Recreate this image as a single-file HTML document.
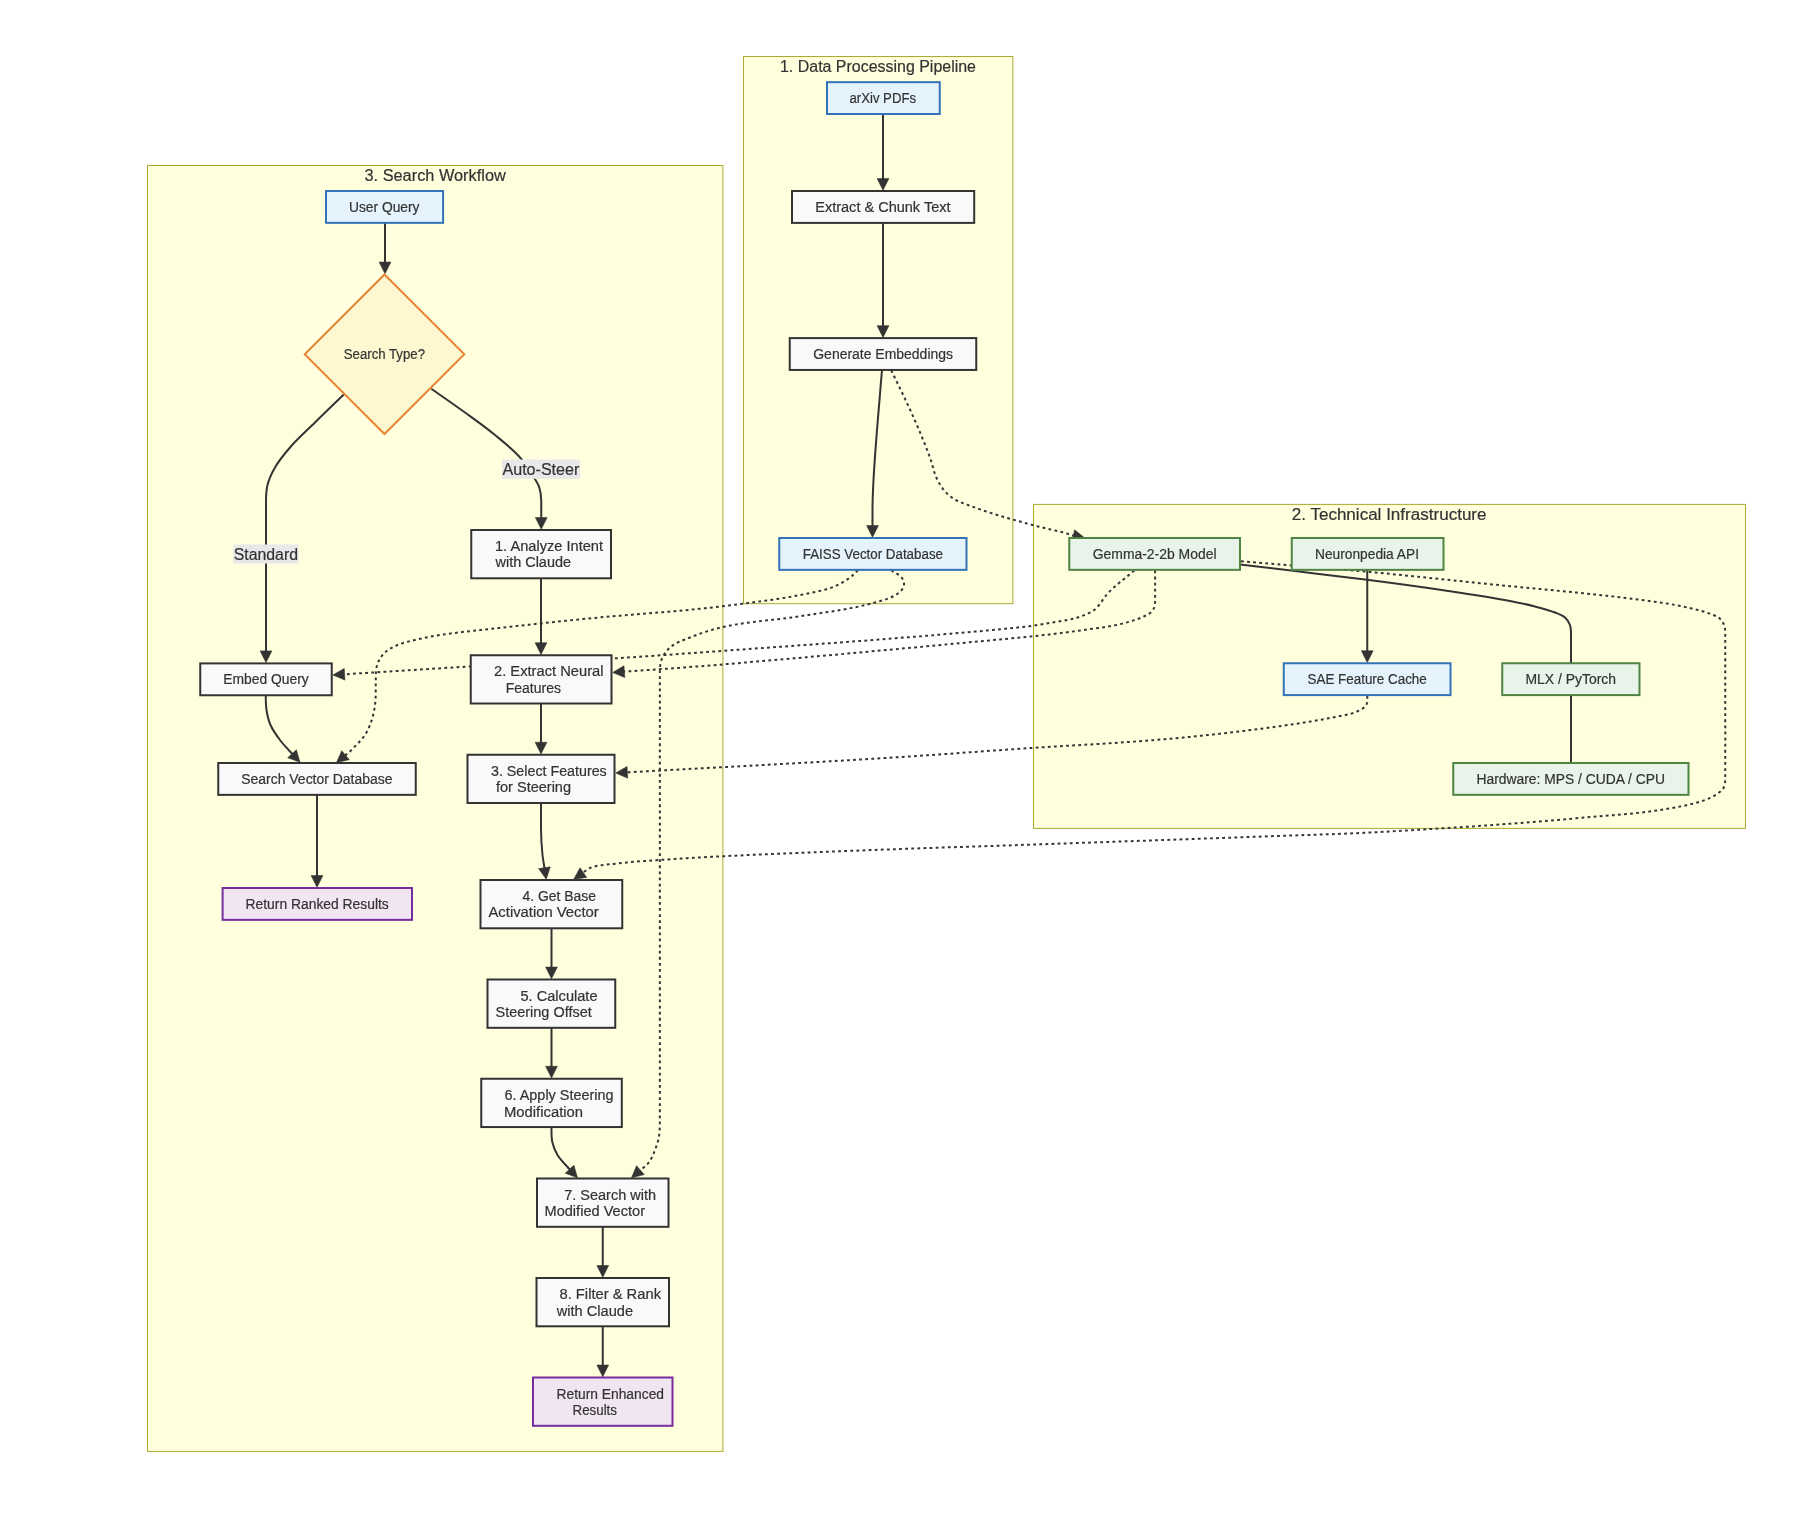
<!DOCTYPE html>
<html lang="en"><head><meta charset="utf-8"><title>Search architecture flowchart</title>
<style>html,body{margin:0;padding:0;background:#fff}svg{display:block;will-change:transform}text{font-family:"Liberation Sans",sans-serif;fill:#333;stroke:#333;stroke-width:0.2px}</style></head><body>
<svg width="1814" height="1538" viewBox="0 0 1814 1538">
<rect width="1814" height="1538" fill="#fff"/>
<g>
<rect x="147.50" y="165.50" width="575.40" height="1285.90" fill="#ffffde" stroke="#aaaa33" stroke-width="1"/>
<rect x="743.50" y="56.50" width="269.40" height="547.20" fill="#ffffde" stroke="#aaaa33" stroke-width="1"/>
<rect x="1033.50" y="504.40" width="712.00" height="324.00" fill="#ffffde" stroke="#aaaa33" stroke-width="1"/>
</g>
<g>
<path d="M385.00,222.00 C385.00,235.87 385.00,249.73 385.00,263.60" fill="none" stroke="#333" stroke-width="2"/>
<polygon points="385.00,273.80 379.15,262.10 390.85,262.10" fill="#333" stroke="#333" stroke-width="0.6" stroke-linejoin="miter"/>
<path d="M343.75,394.50 C334.17,403.83 324.52,413.10 315.00,422.50 C306.61,430.78 297.72,438.60 290.00,447.50 C284.54,453.80 279.17,460.29 275.00,467.50 C271.82,472.99 269.05,478.85 267.50,485.00 C266.11,490.52 266.00,496.31 266.00,502.00 C266.00,552.13 266.00,602.27 266.00,652.40" fill="none" stroke="#333" stroke-width="2"/>
<polygon points="266.00,662.60 260.15,650.90 271.85,650.90" fill="#333" stroke="#333" stroke-width="0.6" stroke-linejoin="miter"/>
<path d="M431.25,388.75 C442.50,396.67 453.87,404.41 465.00,412.50 C475.11,419.85 485.34,427.06 495.00,435.00 C503.66,442.12 512.56,449.11 520.00,457.50 C525.00,463.14 528.96,469.64 533.00,476.00 C535.16,479.40 537.67,482.70 539.00,486.50 C540.62,491.12 541.25,496.11 541.25,501.00 C541.25,507.03 541.25,513.07 541.25,519.10" fill="none" stroke="#333" stroke-width="2"/>
<polygon points="541.25,529.30 535.40,517.60 547.10,517.60" fill="#333" stroke="#333" stroke-width="0.6" stroke-linejoin="miter"/>
<path d="M541.00,577.00 C541.00,599.43 541.00,621.87 541.00,644.30" fill="none" stroke="#333" stroke-width="2"/>
<polygon points="541.00,654.50 535.15,642.80 546.85,642.80" fill="#333" stroke="#333" stroke-width="0.6" stroke-linejoin="miter"/>
<path d="M541.00,702.00 C541.00,715.93 541.00,729.87 541.00,743.80" fill="none" stroke="#333" stroke-width="2"/>
<polygon points="541.00,754.00 535.15,742.30 546.85,742.30" fill="#333" stroke="#333" stroke-width="0.6" stroke-linejoin="miter"/>
<path d="M541.00,803.00 C541.00,811.33 541.00,819.67 541.00,828.00 C541.00,837.01 541.56,846.04 542.50,855.00 C543.00,859.77 543.96,864.48 544.69,869.22" fill="none" stroke="#333" stroke-width="2"/>
<polygon points="546.25,879.30 538.68,868.63 550.25,866.84" fill="#333" stroke="#333" stroke-width="0.6" stroke-linejoin="miter"/>
<path d="M551.50,927.00 C551.50,940.87 551.50,954.73 551.50,968.60" fill="none" stroke="#333" stroke-width="2"/>
<polygon points="551.50,978.80 545.65,967.10 557.35,967.10" fill="#333" stroke="#333" stroke-width="0.6" stroke-linejoin="miter"/>
<path d="M551.50,1026.00 C551.50,1039.93 551.50,1053.87 551.50,1067.80" fill="none" stroke="#333" stroke-width="2"/>
<polygon points="551.50,1078.00 545.65,1066.30 557.35,1066.30" fill="#333" stroke="#333" stroke-width="0.6" stroke-linejoin="miter"/>
<path d="M551.50,1127.00 C551.50,1132.01 551.22,1137.11 552.30,1142.00 C553.30,1146.56 555.11,1150.99 557.50,1155.00 C560.17,1159.47 564.06,1163.09 567.50,1167.00 C568.49,1168.13 569.55,1169.21 570.57,1170.32" fill="none" stroke="#333" stroke-width="2"/>
<polygon points="577.50,1177.80 565.26,1173.19 573.84,1165.24" fill="#333" stroke="#333" stroke-width="0.6" stroke-linejoin="miter"/>
<path d="M602.75,1226.00 C602.75,1239.70 602.75,1253.40 602.75,1267.10" fill="none" stroke="#333" stroke-width="2"/>
<polygon points="602.75,1277.30 596.90,1265.60 608.60,1265.60" fill="#333" stroke="#333" stroke-width="0.6" stroke-linejoin="miter"/>
<path d="M602.75,1325.00 C602.75,1338.87 602.75,1352.73 602.75,1366.60" fill="none" stroke="#333" stroke-width="2"/>
<polygon points="602.75,1376.80 596.90,1365.10 608.60,1365.10" fill="#333" stroke="#333" stroke-width="0.6" stroke-linejoin="miter"/>
<path d="M265.75,695.00 C265.75,700.01 265.73,705.05 266.50,710.00 C267.30,715.11 268.43,720.26 270.50,725.00 C272.87,730.42 276.46,735.25 280.00,740.00 C283.03,744.07 286.61,747.72 290.00,751.50 C291.01,752.62 292.05,753.71 293.07,754.82" fill="none" stroke="#333" stroke-width="2"/>
<polygon points="300.00,762.30 287.76,757.69 296.34,749.74" fill="#333" stroke="#333" stroke-width="0.6" stroke-linejoin="miter"/>
<path d="M317.00,794.00 C317.00,821.70 317.00,849.40 317.00,877.10" fill="none" stroke="#333" stroke-width="2"/>
<polygon points="317.00,887.30 311.15,875.60 322.85,875.60" fill="#333" stroke="#333" stroke-width="0.6" stroke-linejoin="miter"/>
<path d="M883.00,113.00 C883.00,135.37 883.00,157.73 883.00,180.10" fill="none" stroke="#333" stroke-width="2"/>
<polygon points="883.00,190.30 877.15,178.60 888.85,178.60" fill="#333" stroke="#333" stroke-width="0.6" stroke-linejoin="miter"/>
<path d="M883.00,222.00 C883.00,257.07 883.00,292.13 883.00,327.20" fill="none" stroke="#333" stroke-width="2"/>
<polygon points="883.00,337.40 877.15,325.70 888.85,325.70" fill="#333" stroke="#333" stroke-width="0.6" stroke-linejoin="miter"/>
<path d="M882.00,370.00 C880.33,390.00 878.53,409.99 877.00,430.00 C875.72,446.66 874.36,463.31 873.50,480.00 C872.98,489.99 872.50,499.99 872.50,510.00 C872.50,515.70 872.50,521.40 872.50,527.10" fill="none" stroke="#333" stroke-width="2"/>
<polygon points="872.50,537.30 866.65,525.60 878.35,525.60" fill="#333" stroke="#333" stroke-width="0.6" stroke-linejoin="miter"/>
<path d="M1367.25,569.00 C1367.25,596.77 1367.25,624.53 1367.25,652.30" fill="none" stroke="#333" stroke-width="2"/>
<polygon points="1367.25,662.50 1361.40,650.80 1373.10,650.80" fill="#333" stroke="#333" stroke-width="0.6" stroke-linejoin="miter"/>
<path d="M1240.00,564.40 C1257.00,566.47 1274.00,568.55 1291.00,570.60 C1316.33,573.66 1341.69,576.45 1367.00,579.70 C1393.03,583.04 1419.05,586.50 1445.00,590.40 C1466.71,593.66 1488.44,596.87 1510.00,601.00 C1518.38,602.60 1526.74,604.36 1535.00,606.50 C1541.74,608.25 1548.53,609.93 1555.00,612.50 C1558.46,613.87 1562.21,615.03 1565.00,617.50 C1567.25,619.49 1569.00,622.17 1570.00,625.00 C1571.23,628.47 1571.00,632.32 1571.00,636.00 C1571.00,645.00 1571.00,654.00 1571.00,663.00" fill="none" stroke="#333" stroke-width="2"/>
<path d="M1571.00,695.00 C1571.00,717.67 1571.00,740.33 1571.00,763.00" fill="none" stroke="#333" stroke-width="2"/>
<path d="M891.25,370.25 C898.33,385.17 905.81,399.90 912.50,415.00 C918.70,429.01 924.66,443.14 930.00,457.50 C932.76,464.91 933.79,473.02 937.50,480.00 C940.71,486.03 944.64,492.01 950.00,496.25 C957.17,501.92 966.44,504.29 975.00,507.50 C993.76,514.54 1013.18,519.69 1032.50,525.00 C1043.26,527.96 1054.23,530.10 1065.00,533.00 C1068.29,533.89 1071.49,535.17 1074.82,535.88" fill="none" stroke="#333" stroke-width="2" stroke-dasharray="2.8 3.3"/>
<polygon points="1084.80,538.00 1072.14,541.29 1074.57,529.84" fill="#333" stroke="#333" stroke-width="0.6" stroke-linejoin="miter"/>
<path d="M858.00,570.25 C855.33,572.67 852.90,575.37 850.00,577.50 C845.33,580.92 840.36,584.07 835.00,586.25 C823.86,590.78 811.79,592.63 800.00,595.00 C780.99,598.81 761.71,601.16 742.50,603.75 C728.36,605.66 714.19,607.30 700.00,608.75 C664.55,612.37 628.97,614.64 593.50,618.00 C575.65,619.69 557.83,621.60 540.00,623.50 C523.33,625.27 506.66,627.08 490.00,629.00 C473.32,630.92 456.58,632.35 440.00,635.00 C431.61,636.34 423.26,638.00 415.00,640.00 C409.10,641.43 403.07,642.59 397.50,645.00 C393.04,646.93 388.55,649.19 385.00,652.50 C382.02,655.27 379.56,658.74 378.00,662.50 C376.38,666.41 375.80,670.77 375.80,675.00 C375.80,680.00 375.70,685.00 375.70,690.00 C375.70,694.14 375.71,698.29 375.30,702.40 C374.88,706.57 374.21,710.73 373.20,714.80 C372.15,719.02 370.84,723.21 369.10,727.20 C367.72,730.37 366.09,733.47 364.10,736.30 C362.19,739.03 359.78,741.37 357.50,743.80 C354.86,746.62 352.16,749.40 349.30,752.00 C347.72,753.44 346.00,754.73 344.36,756.09" fill="none" stroke="#333" stroke-width="2" stroke-dasharray="2.8 3.3"/>
<polygon points="336.50,762.60 341.78,750.63 349.24,759.64" fill="#333" stroke="#333" stroke-width="0.6" stroke-linejoin="miter"/>
<path d="M891.25,570.25 C895.00,573.08 900.07,574.73 902.50,578.75 C903.81,580.92 904.41,583.80 903.75,586.25 C902.90,589.39 900.14,591.85 897.50,593.75 C890.97,598.45 882.74,600.31 875.00,602.50 C850.55,609.43 825.09,612.20 800.00,616.25 C774.42,620.38 748.27,621.26 723.00,627.00 C711.74,629.56 700.69,633.16 690.00,637.50 C683.09,640.31 675.61,642.59 670.00,647.50 C666.21,650.82 663.24,655.27 661.50,660.00 C659.76,664.72 659.85,669.97 659.85,675.00 C659.85,824.00 659.85,973.00 659.85,1122.00 C659.85,1127.18 659.68,1132.41 658.75,1137.50 C657.97,1141.78 656.60,1145.96 655.00,1150.00 C653.28,1154.33 651.56,1158.78 648.75,1162.50 C646.37,1165.65 642.96,1167.88 640.00,1170.50 C639.75,1170.72 639.49,1170.94 639.24,1171.15" fill="none" stroke="#333" stroke-width="2" stroke-dasharray="2.8 3.3"/>
<polygon points="631.50,1177.80 636.56,1165.74 644.19,1174.62" fill="#333" stroke="#333" stroke-width="0.6" stroke-linejoin="miter"/>
<path d="M1134.30,570.50 C1131.07,573.17 1127.83,575.83 1124.60,578.50 C1121.37,581.17 1118.00,583.68 1114.90,586.50 C1111.83,589.29 1108.79,592.14 1106.10,595.30 C1103.52,598.34 1101.68,601.96 1099.10,605.00 C1097.48,606.90 1095.77,608.77 1093.80,610.30 C1092.45,611.34 1090.92,612.13 1089.40,612.90 C1087.39,613.93 1085.32,614.82 1083.20,615.60 C1079.44,616.99 1075.60,618.17 1071.70,619.10 C1065.91,620.49 1059.97,621.19 1054.10,622.20 C1047.94,623.26 1041.79,624.42 1035.60,625.30 C1027.09,626.51 1018.55,627.47 1010.00,628.30 C906.84,638.37 803.37,644.94 700.00,652.50 C670.68,654.64 641.34,656.67 612.00,658.50 C564.60,661.45 517.16,663.69 469.75,666.50 C427.52,669.00 385.30,671.75 343.08,674.37" fill="none" stroke="#333" stroke-width="2" stroke-dasharray="2.8 3.3"/>
<polygon points="332.90,675.00 344.21,668.44 344.94,680.11" fill="#333" stroke="#333" stroke-width="0.6" stroke-linejoin="miter"/>
<path d="M1155.10,570.50 C1155.10,580.83 1155.10,591.17 1155.10,601.50 C1155.10,603.56 1154.99,605.70 1154.20,607.60 C1153.35,609.64 1151.87,611.44 1150.20,612.90 C1148.41,614.46 1146.15,615.39 1144.00,616.40 C1140.61,617.99 1137.07,619.25 1133.50,620.40 C1127.40,622.36 1121.18,624.00 1114.90,625.30 C1106.48,627.05 1097.91,627.97 1089.40,629.20 C1080.58,630.47 1071.74,631.68 1062.90,632.80 C1053.81,633.95 1044.71,635.02 1035.60,636.00 C1027.08,636.92 1018.54,637.70 1010.00,638.50 C906.70,648.17 803.41,657.92 700.00,666.25 C674.31,668.32 648.58,669.93 622.87,671.77" fill="none" stroke="#333" stroke-width="2" stroke-dasharray="2.8 3.3"/>
<polygon points="612.70,672.50 623.95,665.83 624.79,677.50" fill="#333" stroke="#333" stroke-width="0.6" stroke-linejoin="miter"/>
<path d="M1367.25,696.00 C1367.25,699.02 1367.78,702.40 1366.25,705.00 C1364.44,708.09 1360.75,709.75 1357.50,711.25 C1349.70,714.85 1340.92,715.78 1332.50,717.50 C1311.83,721.73 1290.91,724.65 1270.00,727.50 C1236.76,732.03 1203.41,735.76 1170.00,738.75 C1120.09,743.22 1070.00,745.35 1020.00,748.75 C977.83,751.61 935.69,754.86 893.50,757.50 C804.33,763.07 715.09,767.45 625.88,772.43" fill="none" stroke="#333" stroke-width="2" stroke-dasharray="2.8 3.3"/>
<polygon points="615.70,773.00 627.06,766.51 627.71,778.19" fill="#333" stroke="#333" stroke-width="0.6" stroke-linejoin="miter"/>
<path d="M1241.00,561.25 C1284.00,564.83 1327.03,568.03 1370.00,572.00 C1404.53,575.19 1439.01,578.90 1473.50,582.50 C1535.69,588.99 1598.11,593.62 1660.00,602.50 C1668.38,603.70 1676.74,605.14 1685.00,607.00 C1693.42,608.89 1701.93,610.68 1710.00,613.75 C1713.48,615.08 1717.27,616.22 1720.00,618.75 C1722.14,620.73 1723.61,623.47 1724.50,626.25 C1725.49,629.36 1725.25,632.74 1725.25,636.00 C1725.25,682.67 1725.25,729.33 1725.25,776.00 C1725.25,779.87 1725.46,784.03 1723.75,787.50 C1722.45,790.14 1719.89,792.03 1717.50,793.75 C1713.72,796.47 1709.39,798.44 1705.00,800.00 C1690.52,805.14 1675.17,807.56 1660.00,810.00 C1635.19,813.98 1610.02,815.21 1585.00,817.50 C1560.02,819.79 1535.02,821.87 1510.00,823.75 C1485.01,825.62 1460.01,827.21 1435.00,828.75 C1410.01,830.29 1385.01,831.84 1360.00,833.00 C1330.01,834.39 1300.00,835.18 1270.00,836.25 C1186.67,839.21 1103.34,842.14 1020.00,845.00 C977.83,846.45 935.66,847.68 893.50,849.25 C836.66,851.37 779.81,853.41 723.00,856.25 C701.82,857.31 680.65,858.48 659.50,860.00 C644.65,861.06 629.77,861.88 615.00,863.75 C606.61,864.81 597.82,864.80 590.00,868.00 C587.04,869.21 584.75,871.65 582.12,873.48" fill="none" stroke="#333" stroke-width="2" stroke-dasharray="2.8 3.3"/>
<polygon points="573.75,879.30 580.02,867.82 586.70,877.42" fill="#333" stroke="#333" stroke-width="0.6" stroke-linejoin="miter"/>
</g>
<g>
<rect x="502" y="459.5" width="78.25" height="19.25" fill="#e8e8e8"/>
<text x="502.50" y="475.00" font-size="16" textLength="76.75" lengthAdjust="spacingAndGlyphs">Auto-Steer</text>
<rect x="233.25" y="544.5" width="65.25" height="19" fill="#e8e8e8"/>
<text x="233.75" y="560.00" font-size="16" textLength="64.25" lengthAdjust="spacingAndGlyphs">Standard</text>
</g>
<g>
<rect x="326.00" y="191.00" width="117.10" height="31.85" fill="#e5f3fd" stroke="#3373b7" stroke-width="2"/>
<polygon points="384.50,274.45 464.30,354.25 384.50,434.05 304.70,354.25" fill="#fdf8d0" stroke="#e78535" stroke-width="2"/>
<rect x="471.25" y="530.00" width="139.75" height="48.30" fill="#f9f9f9" stroke="#333333" stroke-width="2"/>
<rect x="470.75" y="655.25" width="140.75" height="48.25" fill="#f9f9f9" stroke="#333333" stroke-width="2"/>
<rect x="467.50" y="754.75" width="147.00" height="48.25" fill="#f9f9f9" stroke="#333333" stroke-width="2"/>
<rect x="480.50" y="880.00" width="141.75" height="48.30" fill="#f9f9f9" stroke="#333333" stroke-width="2"/>
<rect x="487.50" y="979.50" width="127.75" height="48.30" fill="#f9f9f9" stroke="#333333" stroke-width="2"/>
<rect x="481.25" y="1078.75" width="140.55" height="48.30" fill="#f9f9f9" stroke="#333333" stroke-width="2"/>
<rect x="537.00" y="1178.50" width="131.50" height="48.30" fill="#f9f9f9" stroke="#333333" stroke-width="2"/>
<rect x="536.50" y="1278.00" width="132.50" height="48.30" fill="#f9f9f9" stroke="#333333" stroke-width="2"/>
<rect x="533.00" y="1377.50" width="139.50" height="48.30" fill="#f1e5f2" stroke="#772c9f" stroke-width="2"/>
<rect x="200.25" y="663.40" width="131.50" height="31.85" fill="#f9f9f9" stroke="#333333" stroke-width="2"/>
<rect x="218.25" y="763.00" width="197.50" height="31.85" fill="#f9f9f9" stroke="#333333" stroke-width="2"/>
<rect x="222.60" y="888.00" width="189.40" height="31.85" fill="#f1e5f2" stroke="#772c9f" stroke-width="2"/>
<rect x="827.00" y="82.15" width="112.75" height="31.85" fill="#e5f3fd" stroke="#3373b7" stroke-width="2"/>
<rect x="792.00" y="191.00" width="182.20" height="31.90" fill="#f9f9f9" stroke="#333333" stroke-width="2"/>
<rect x="789.75" y="338.10" width="186.50" height="31.85" fill="#f9f9f9" stroke="#333333" stroke-width="2"/>
<rect x="779.25" y="538.00" width="187.25" height="31.85" fill="#e5f3fd" stroke="#3373b7" stroke-width="2"/>
<rect x="1069.25" y="538.00" width="170.75" height="31.85" fill="#e8f4e9" stroke="#4f8442" stroke-width="2"/>
<rect x="1291.75" y="538.00" width="151.75" height="31.85" fill="#e8f4e9" stroke="#4f8442" stroke-width="2"/>
<rect x="1283.75" y="663.25" width="166.75" height="31.85" fill="#e5f3fd" stroke="#3373b7" stroke-width="2"/>
<rect x="1502.25" y="663.25" width="137.25" height="31.85" fill="#e8f4e9" stroke="#4f8442" stroke-width="2"/>
<rect x="1453.25" y="763.00" width="235.25" height="31.85" fill="#e8f4e9" stroke="#4f8442" stroke-width="2"/>
</g>
<g>
<text x="364.50" y="180.50" font-size="16" textLength="141.25" lengthAdjust="spacingAndGlyphs">3. Search Workflow</text>
<text x="780.00" y="72.00" font-size="16" textLength="196.00" lengthAdjust="spacingAndGlyphs">1. Data Processing Pipeline</text>
<text x="1291.75" y="520.00" font-size="16" textLength="194.75" lengthAdjust="spacingAndGlyphs">2. Technical Infrastructure</text>
<text x="349.00" y="212.00" font-size="14" textLength="70.50" lengthAdjust="spacingAndGlyphs">User Query</text>
<text x="343.75" y="359.00" font-size="14" textLength="81.25" lengthAdjust="spacingAndGlyphs">Search Type?</text>
<text x="223.25" y="683.75" font-size="14" textLength="85.50" lengthAdjust="spacingAndGlyphs">Embed Query</text>
<text x="241.25" y="783.75" font-size="14" textLength="151.25" lengthAdjust="spacingAndGlyphs">Search Vector Database</text>
<text x="245.50" y="909.00" font-size="14" textLength="143.30" lengthAdjust="spacingAndGlyphs">Return Ranked Results</text>
<text x="495.00" y="550.75" font-size="14" textLength="108.00" lengthAdjust="spacingAndGlyphs">1. Analyze Intent</text>
<text x="495.50" y="567.25" font-size="14" textLength="75.50" lengthAdjust="spacingAndGlyphs">with Claude</text>
<text x="494.00" y="675.50" font-size="14" textLength="109.50" lengthAdjust="spacingAndGlyphs">2. Extract Neural</text>
<text x="505.75" y="693.00" font-size="14" textLength="55.25" lengthAdjust="spacingAndGlyphs">Features</text>
<text x="491.00" y="776.00" font-size="14" textLength="115.75" lengthAdjust="spacingAndGlyphs">3. Select Features</text>
<text x="496.00" y="791.60" font-size="14" textLength="75.00" lengthAdjust="spacingAndGlyphs">for Steering</text>
<text x="522.50" y="900.75" font-size="14" textLength="73.50" lengthAdjust="spacingAndGlyphs">4. Get Base</text>
<text x="488.50" y="916.50" font-size="14" textLength="110.25" lengthAdjust="spacingAndGlyphs">Activation Vector</text>
<text x="520.50" y="1000.50" font-size="14" textLength="77.00" lengthAdjust="spacingAndGlyphs">5. Calculate</text>
<text x="495.50" y="1016.50" font-size="14" textLength="96.25" lengthAdjust="spacingAndGlyphs">Steering Offset</text>
<text x="504.50" y="1099.50" font-size="14" textLength="109.00" lengthAdjust="spacingAndGlyphs">6. Apply Steering</text>
<text x="504.00" y="1117.00" font-size="14" textLength="79.00" lengthAdjust="spacingAndGlyphs">Modification</text>
<text x="564.25" y="1200.00" font-size="14" textLength="91.75" lengthAdjust="spacingAndGlyphs">7. Search with</text>
<text x="544.50" y="1216.00" font-size="14" textLength="100.50" lengthAdjust="spacingAndGlyphs">Modified Vector</text>
<text x="559.50" y="1299.00" font-size="14" textLength="101.50" lengthAdjust="spacingAndGlyphs">8. Filter &amp; Rank</text>
<text x="556.75" y="1315.50" font-size="14" textLength="76.25" lengthAdjust="spacingAndGlyphs">with Claude</text>
<text x="556.50" y="1398.50" font-size="14" textLength="107.50" lengthAdjust="spacingAndGlyphs">Return Enhanced</text>
<text x="572.50" y="1414.50" font-size="14" textLength="44.50" lengthAdjust="spacingAndGlyphs">Results</text>
<text x="849.50" y="103.00" font-size="14" textLength="66.50" lengthAdjust="spacingAndGlyphs">arXiv PDFs</text>
<text x="815.25" y="212.00" font-size="14" textLength="135.25" lengthAdjust="spacingAndGlyphs">Extract &amp; Chunk Text</text>
<text x="813.25" y="358.50" font-size="14" textLength="139.75" lengthAdjust="spacingAndGlyphs">Generate Embeddings</text>
<text x="802.75" y="558.50" font-size="14" textLength="140.25" lengthAdjust="spacingAndGlyphs">FAISS Vector Database</text>
<text x="1092.75" y="558.75" font-size="14" textLength="123.75" lengthAdjust="spacingAndGlyphs">Gemma-2-2b Model</text>
<text x="1315.00" y="558.75" font-size="14" textLength="104.00" lengthAdjust="spacingAndGlyphs">Neuronpedia API</text>
<text x="1307.50" y="683.75" font-size="14" textLength="119.25" lengthAdjust="spacingAndGlyphs">SAE Feature Cache</text>
<text x="1525.50" y="683.75" font-size="14" textLength="90.50" lengthAdjust="spacingAndGlyphs">MLX / PyTorch</text>
<text x="1476.50" y="783.50" font-size="14" textLength="188.50" lengthAdjust="spacingAndGlyphs">Hardware: MPS / CUDA / CPU</text>
</g>
</svg></body></html>
